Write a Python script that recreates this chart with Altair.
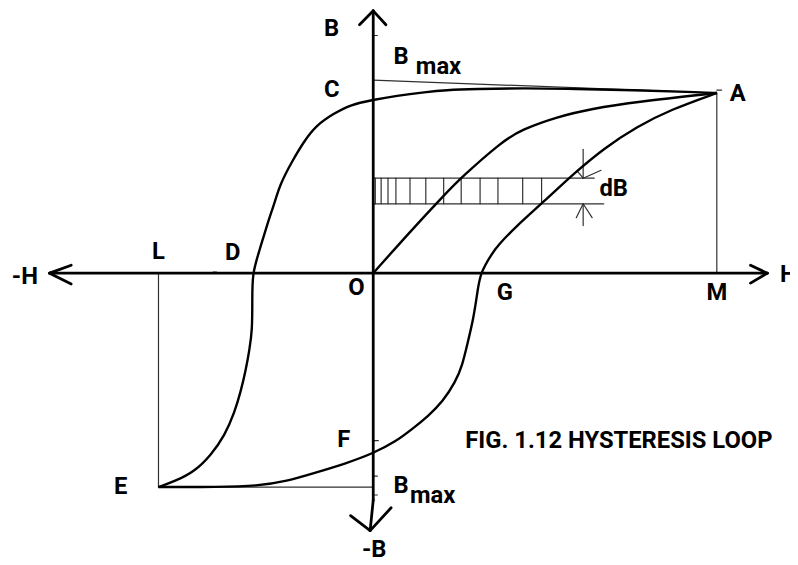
import altair as alt
import pandas as pd

# ---- data (H in units where M = 100, B in units where A = 100) ----
up_H = [100, 93.1, 75.8, 58.5, 44.1, 29.7, 21.0, 15.3, 6.6, 0, -6.9, -11.5, -16.4, -20.2, -23.6,
        -27.1, -28.8, -30.8, -33.1, -35.2, -35.2, -35.2, -36.0, -37.2, -38.6, -40.3, -43.2,
        -47.3, -51.9, -57.6, -62.5]
up_B = [100, 100.5, 101.6, 102.2, 102.7, 102.2, 101.6, 100.5, 98.4, 96.2, 93.4, 88.5, 82.4, 73.1,
        62.1, 49.5, 38.5, 27.5, 12.6, 0, -14.8, -31.3, -42.3, -54.9, -65.9, -76.9, -90.1, -101.1,
        -109.9, -115.4, -118.7]

low_H = [-62.5, -45.2, -33.7, -25.1, -17.3, -7.8, 0, 6.6, 11.5, 16.1, 20.2, 23.9, 25.9, 27.7,
         29.1, 30.3, 31.1, 34.6, 36.3, 41.2, 49.9, 58.5, 67.1, 76.7, 86.5, 100]
low_B = [-118.7, -118.7, -118.1, -115.4, -111.0, -105.5, -100.0, -93.4, -86.3, -79.1, -71.4,
         -60.4, -51.6, -36.8, -25.8, -11.0, 0, 11.0, 15.4, 25.3, 40.1, 55.5, 69.2, 81.3, 90.7, 100]

init_H = [0, 11.0, 21.0, 25.4, 37.5, 43.2, 53.6, 63.4, 76.7, 100]
init_B = [0, 23.6, 44.0, 52.7, 73.1, 79.7, 86.8, 91.2, 95.1, 100]

hatch_H = [0.6, 2.3, 4.3, 6.6, 10.7, 15.3, 20.5, 25.6, 31.1, 36.3, 43.5, 49.0]
hatch_top, hatch_bot = 52.7, 38.5

# thick segments: axes and arrow heads (h1, b1, h2, b2)
thick_segs = [
    (-94.2, 0, 114.7, 0), (0, 145.6, 0, -126.0), (0, -126.0, -0.9, -142.9),
    (-87.9, 4.4, -94.2, 0), (-87.9, -6.0, -94.2, 0),
    (109.8, 4.4, 114.7, 0), (109.8, -5.5, 114.7, 0),
    (-4.0, 137.9, 0, 145.6), (3.7, 137.9, 0, 145.6),
    (-6.6, -134.6, -0.9, -142.9), (5.2, -130.2, -0.9, -142.9),
]
# thin segments: M, L, Bmax lines, hatch borders, dB arrows, small ticks
thin_segs = [
    (100, 0, 100, 100), (-62.5, 0, -62.5, -118.7),
    (0, 107.1, 100, 100), (-62.5, -118.7, 0, -118.7),
    (0, hatch_top, 64.3, hatch_top), (0, hatch_bot, 67.1, hatch_bot),
    (61.1, 68.7, 61.1, hatch_top), (59.4, 56.6, 61.1, hatch_top), (66.3, 57.1, 61.1, hatch_top),
    (61.1, hatch_bot, 61.1, 26.4), (59.1, 30.8, 61.1, hatch_bot), (63.7, 30.8, 61.1, hatch_bot),
    (0, 131.9, 1.2, 131.9), (0, -92.9, 1.5, -92.9), (0, -112.6, 1.2, -112.6),
    (0, -123.1, 1.2, -123.1), (-46.6, 0.6, -45.6, 0.6), (100, 101.6, 101.4, 101.6),
]
thin_segs += [(h, hatch_top, h, hatch_bot) for h in hatch_H]

labels = ["B", "B", "max", "C", "A", "dB", "-H", "L", "D", "O", "G", "M", "H", "F", "E",
          "B", "max", "-B"]
label_H = [-12.1, 8.1, 19.0, -12.1, 106.1, 70.0, -101.4, -62.5, -40.9, -4.9, 38.3, 100, 120.8,
           -8.6, -73.5, 8.1, 17.3, 0.3]
label_B = [135.2, 119.8, 114.3, 101.6, 99.5, 46.7, -2.2, 11.5, 11.0, -8.2, -11.0, -11.0, -1.1,
           -92.9, -118.7, -118.1, -123.6, -153.8]

title_text = "FIG. 1.12 HYSTERESIS LOOP"
title_H, title_B = 26.8, -93.4

# ---- build tables ----
rows = []
for name, hs, bs in [("up", up_H, up_B), ("low", low_H, low_B), ("init", init_H, init_B)]:
    for i, (h, b) in enumerate(zip(hs, bs)):
        rows.append({"series": name, "idx": i, "H": h, "B": b})
curves = pd.DataFrame(rows)
thick = pd.DataFrame(thick_segs, columns=["h1", "b1", "h2", "b2"])
thin = pd.DataFrame(thin_segs, columns=["h1", "b1", "h2", "b2"])
lab = pd.DataFrame({"t": labels, "H": label_H, "B": label_B})
ttl = pd.DataFrame({"t": [title_text], "H": [title_H], "B": [title_B]})

xs = alt.Scale(domain=[-106.3, 121.3], nice=False, zero=False)
ys = alt.Scale(domain=[-160.4, 145.6], nice=False, zero=False)
FONT = "Roboto"

def seg_chart(df, width, color):
    return alt.Chart(df).mark_rule(color=color, strokeWidth=width, strokeCap="round").encode(
        x=alt.X("h1:Q", scale=xs, axis=None), x2="h2:Q",
        y=alt.Y("b1:Q", scale=ys, axis=None), y2="b2:Q")

thin_c = seg_chart(thin, 1.2, "#303030")
thick_c = seg_chart(thick, 2.8, "black")

curve_c = alt.Chart(curves).mark_line(color="black", strokeWidth=2.4,
                                      interpolate="basis").encode(
    x=alt.X("H:Q", scale=xs, axis=None), y=alt.Y("B:Q", scale=ys, axis=None),
    detail="series:N", order="idx:Q")

text_c = alt.Chart(lab).mark_text(font=FONT, fontWeight="bold", fontSize=24, color="black",
                                  baseline="middle", align="center").encode(
    x=alt.X("H:Q", scale=xs, axis=None), y=alt.Y("B:Q", scale=ys, axis=None), text="t:N")

title_c = alt.Chart(ttl).mark_text(font=FONT, fontWeight="bold", fontSize=24, color="black",
                                   baseline="middle", align="left").encode(
    x=alt.X("H:Q", scale=xs, axis=None), y=alt.Y("B:Q", scale=ys, axis=None), text="t:N")

chart = alt.layer(thin_c, thick_c, curve_c, text_c, title_c).properties(
    width=790, height=557, autosize=alt.AutoSizeParams(type="none"), padding=0,
    background="white"
).configure_view(stroke=None)

chart.save("out.html", embed_options={"renderer": "svg", "actions": False})
